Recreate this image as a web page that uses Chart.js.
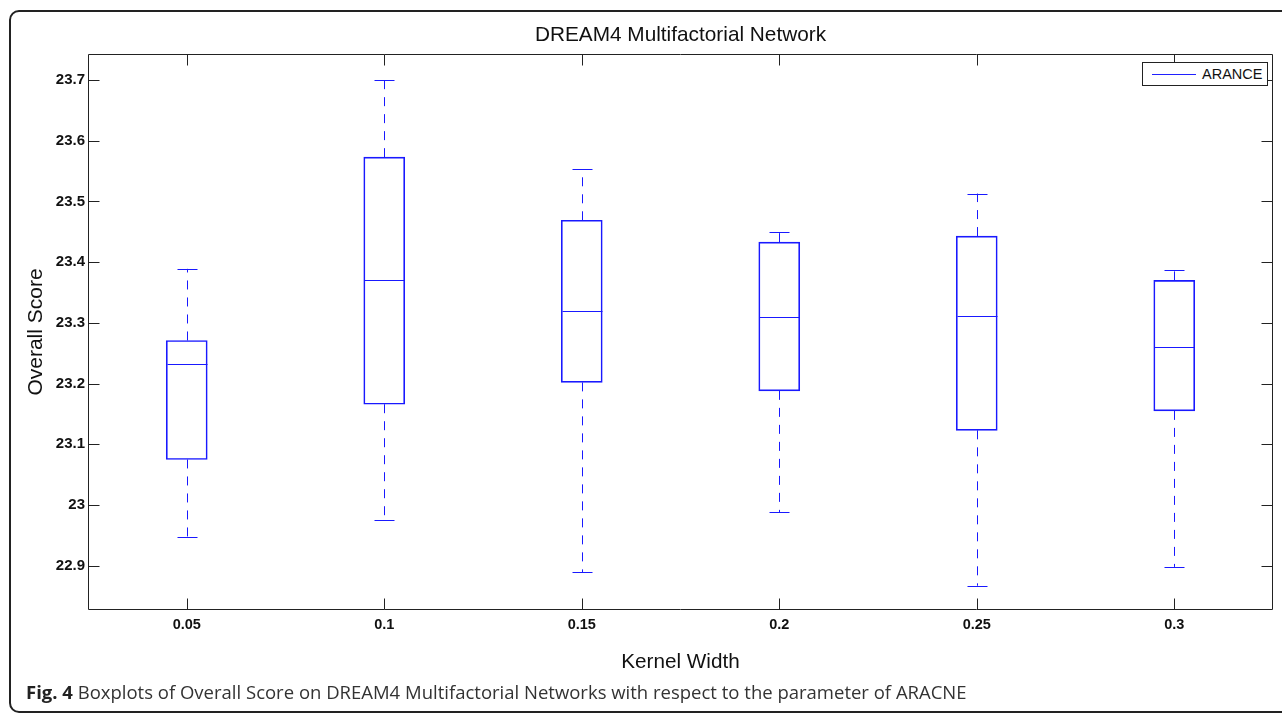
<!DOCTYPE html>
<html><head><meta charset="utf-8">
<script src="https://cdn.jsdelivr.net/npm/chart.js@4.4.0/dist/chart.umd.min.js"></script>
<style>
html,body{margin:0;padding:0;background:#fff;width:1282px;height:715px;overflow:hidden;}
#frame{position:absolute;left:9px;top:10px;width:1300px;height:703px;border:2px solid #222;border-radius:10px;box-sizing:border-box;}
#wrap{position:absolute;left:0;top:0;width:1282px;height:715px;}
#caption{position:absolute;left:26px;top:680px;font-family:"Open Sans";font-size:18.5px;color:#333;white-space:nowrap;line-height:24px;}
#caption b{color:#222;}
#legend{position:absolute;left:1142px;top:62px;width:126px;height:24px;border:1px solid #222;box-sizing:border-box;background:#fff;font-family:"Liberation Sans";font-size:14.5px;color:#111;z-index:5;}
#legend .ln{position:absolute;left:9px;top:11px;width:44px;height:0;border-top:1px solid #2020ff;}
#legend .tx{position:absolute;left:59px;top:3px;line-height:16px;}
</style>
</head><body>
<div id="frame"></div>
<div id="wrap"><canvas id="c" width="1282" height="715"></canvas></div>
<div id="legend"><span class="ln"></span><span class="tx">ARANCE</span></div>
<div id="caption"><b>Fig. 4</b> Boxplots of Overall Score on DREAM4 Multifactorial Networks with respect to the parameter of ARACNE</div>
<script>
const categories = ['0.05','0.1','0.15','0.2','0.25','0.3'];
const whiskerLow  = [22.948, 22.975, 22.889, 22.988, 22.867, 22.898];
const q1          = [23.075, 23.166, 23.202, 23.188, 23.123, 23.155];
const median      = [23.233, 23.371, 23.319, 23.310, 23.311, 23.261];
const q3          = [23.271, 23.573, 23.469, 23.433, 23.443, 23.370];
const whiskerHigh = [23.389, 23.700, 23.553, 23.450, 23.513, 23.387];
const yTicks = [22.9, 23.0, 23.1, 23.2, 23.3, 23.4, 23.5, 23.6, 23.7];
const seriesName = 'ARANCE';

const BLUE = 'rgb(25,25,255)';
const AXIS = '#222';

const boxPlugin = {
  id: 'boxExtras',
  afterDatasetsDraw(chart) {
    const ctx = chart.ctx, xs = chart.scales.x, ys = chart.scales.y, a = chart.chartArea;
    ctx.save();
    ctx.strokeStyle = BLUE;
    ctx.lineWidth = 1;
    categories.forEach((c, i) => {
      const x = Math.round(xs.getPixelForValue(i)) + 0.5;
      const yl = ys.getPixelForValue(whiskerLow[i]);
      const yq1 = ys.getPixelForValue(q1[i]);
      const ym = ys.getPixelForValue(median[i]);
      const yq3 = ys.getPixelForValue(q3[i]);
      const yh = ys.getPixelForValue(whiskerHigh[i]);
      ctx.setLineDash([9, 8]);
      ctx.beginPath();
      ctx.moveTo(x, yq3); ctx.lineTo(x, yh);
      ctx.moveTo(x, yq1); ctx.lineTo(x, yl);
      ctx.stroke();
      ctx.setLineDash([]);
      ctx.beginPath();
      ctx.moveTo(x - 10, Math.round(yh) + 0.5); ctx.lineTo(x + 10, Math.round(yh) + 0.5);
      ctx.moveTo(x - 10, Math.round(yl) + 0.5); ctx.lineTo(x + 10, Math.round(yl) + 0.5);
      ctx.moveTo(x - 20, Math.round(ym) + 0.5); ctx.lineTo(x + 20, Math.round(ym) + 0.5);
      ctx.stroke();
    });
    ctx.strokeStyle = AXIS;
    ctx.lineWidth = 1;
    const L = Math.round(a.left) + 0.5, R = Math.round(a.right) - 0.5,
          T = Math.round(a.top) + 0.5, B = Math.round(a.bottom) - 0.5;
    ctx.beginPath();
    ctx.rect(L, T, R - L, B - T);
    ys.ticks.forEach(t => {
      const y = Math.round(ys.getPixelForValue(t.value)) + 0.5;
      ctx.moveTo(L, y); ctx.lineTo(L + 11, y);
      ctx.moveTo(R, y); ctx.lineTo(R - 11, y);
    });
    categories.forEach((c, i) => {
      const x = Math.round(xs.getPixelForValue(i)) + 0.5;
      ctx.moveTo(x, B); ctx.lineTo(x, B - 11);
      ctx.moveTo(x, T); ctx.lineTo(x, T + 11);
    });
    ctx.stroke();
    ctx.restore();
  }
};

new Chart(document.getElementById('c'), {
  type: 'bar',
  data: {
    labels: categories,
    datasets: [{
      label: seriesName,
      data: categories.map((c, i) => [q1[i], q3[i]]),
      backgroundColor: 'rgba(255,255,255,0)',
      borderColor: BLUE,
      borderWidth: 1,
      borderSkipped: false,
      barThickness: 41
    }]
  },
  options: {
    responsive: false,
    animation: false,
    devicePixelRatio: 1,
    layout: { padding: { left: 0, right: 9, top: 0, bottom: 0 } },
    plugins: {
      legend: { display: false },
      tooltip: { enabled: false },
      title: {
        display: true,
        text: 'DREAM4 Multifactorial Network',
        fullSize: false,
        color: '#111',
        font: { family: 'Liberation Sans', size: 20.8, weight: 'normal', lineHeight: 1.2 },
        padding: { top: 23, bottom: 6 }
      }
    },
    scales: {
      x: {
        type: 'category',
        offset: true,
        grid: { display: false, drawTicks: false, tickLength: 0 },
        border: { display: false },
        ticks: { color: '#111', padding: 6.5, font: { family: 'Liberation Sans', size: 14.5, weight: 'bold' } },
        title: { display: true, text: 'Kernel Width', color: '#111',
          font: { family: 'Liberation Sans', size: 20.7, weight: 'normal', lineHeight: 1.2 },
          padding: { top: 0, bottom: 40 } },
        afterFit(scale) { scale.height = 105; }
      },
      y: {
        min: 22.827,
        max: 23.743,
        grid: { display: false, drawTicks: false, tickLength: 0 },
        border: { display: false },
        afterBuildTicks(scale) { scale.ticks = yTicks.map(v => ({ value: v })); },
        ticks: {
          color: '#111', padding: 3,
          font: { family: 'Liberation Sans', size: 15, weight: 'bold' },
          callback: (v) => String(Number(Number(v).toFixed(1)))
        },
        title: { display: true, text: 'Overall Score', color: '#111',
          font: { family: 'Liberation Sans', size: 21, weight: 'normal', lineHeight: 1.2 },
          padding: { top: 24, bottom: 0 } },
        afterFit(scale) { scale.width = 88; }
      }
    }
  },
  plugins: [boxPlugin]
});
</script>
</body></html>
